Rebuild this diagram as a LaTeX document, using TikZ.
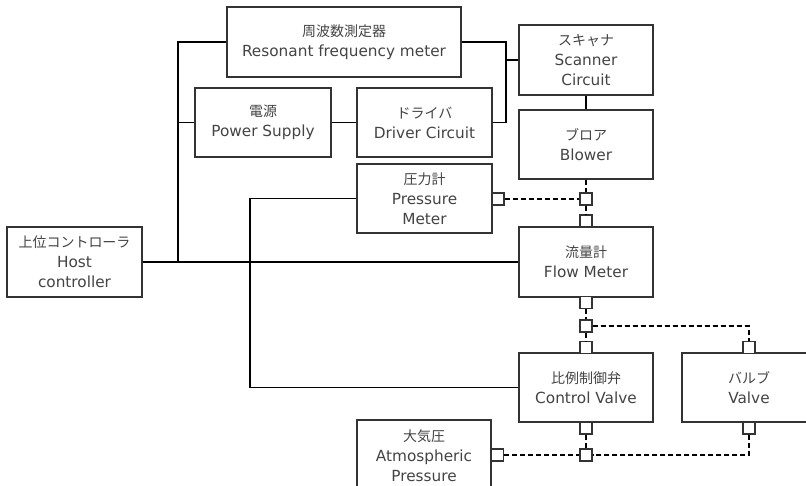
\documentclass[tikz,border=0pt]{standalone}
\usepackage{fontspec}
\setmainfont{DejaVu Sans}
\newfontfamily\cjk{Noto Sans CJK JP}
\definecolor{boxc}{HTML}{333333}
\definecolor{txt}{HTML}{444444}
\newcommand{\jp}[1]{{\cjk\fontsize{14}{20}\selectfont #1}}
\begin{document}
\begin{tikzpicture}[x=1pt,y=-1pt,
  box/.style={draw=boxc, line width=1.4pt, fill=white, inner sep=0pt,
    minimum width=135pt, minimum height=69pt, align=center, text=txt,
    font=\fontsize{15.3}{20}\selectfont},
  sq/.style={draw=boxc, fill=white, line width=1.2pt, minimum size=12pt, inner sep=0pt},
  wire/.style={draw=black, line width=1.8pt},
  dsh/.style={draw=black, line width=1.4pt, dash pattern=on 5pt off 3pt}]
\clip (0,0) rectangle (806,486);
\fill[white] (0,0) rectangle (806,486);
% boxes
\node[box, minimum width=234pt, minimum height=70pt] (rfm) at (344,42) {\jp{周波数測定器}\\Resonant frequency meter};
\node[box, minimum width=136pt] (ps) at (263,122.5) {\jp{電源}\\Power Supply};
\node[box] (drv) at (424.5,122.5) {\jp{ドライバ}\\Driver Circuit};
\node[box] (pm) at (424.5,198.5) {\jp{圧力計}\\Pressure\\Meter};
\node[box, minimum height=70pt] (host) at (74.5,262) {\jp{上位コントローラ}\\Host\\controller};
\node[box, minimum width=134pt, minimum height=72pt] (atm) at (424,456) {\jp{大気圧}\\Atmospheric\\Pressure};
\node[box, minimum width=134pt, minimum height=70pt] (sc) at (586,60) {\jp{スキャナ}\\Scanner\\Circuit};
\node[box, minimum width=134pt] (bl) at (586,144.5) {\jp{ブロア}\\Blower};
\node[box, minimum width=134pt, minimum height=70pt] (fm) at (586,262) {\jp{流量計}\\Flow Meter};
\node[box, minimum width=134pt] (cv) at (586,387.5) {\jp{比例制御弁}\\Control Valve};
\node[box, minimum width=134pt] (va) at (749,387.5) {\jp{バルブ}\\Valve};
% solid wires
\coordinate (hj) at (178,262);
\coordinate (rj) at (506,122.5);
\draw[wire] (host) -- (fm);
\draw[wire] (rfm.west) -| (hj);
\draw[wire] (ps.west) -- (ps.west -| hj);
\draw[wire] (pm.west) -| (250,387.5) -- (cv.west);
\draw[wire] (rfm.east) -| (rj) -- (drv.east);
\draw[wire] (sc.west) -- (sc.west -| rj);
\draw[wire] (ps) -- (drv);
\draw[wire] (sc) -- (bl);
% ports
\node[sq] (q1) at (586,199) {};
\node[sq] (q2) at (586,221) {};
\node[sq] (qpm) at (498,199) {};
\node[sq] (q3) at (586,302.5) {};
\node[sq] (q4) at (586,326) {};
\node[sq] (q5) at (586,347.5) {};
\node[sq] (qv1) at (749,347.5) {};
\node[sq] (q6) at (586,428) {};
\node[sq] (qv2) at (749,428) {};
\node[sq] (q7) at (586,455) {};
\node[sq] (qatm) at (497.5,455) {};
% dashed lines
\draw[dsh] (bl.south) -- (q1);
\draw[dsh] (q1) -- (q2);
\draw[dsh] (qpm) -- (q1);
\draw[dsh] (q3) -- (q4);
\draw[dsh] (q4) -- (q5);
\draw[dsh] (q4) -| (qv1);
\draw[dsh] (q6) -- (q7);
\draw[dsh] (qv2) |- (q7);
\draw[dsh] (qatm) -- (q7);
\end{tikzpicture}
\end{document}
